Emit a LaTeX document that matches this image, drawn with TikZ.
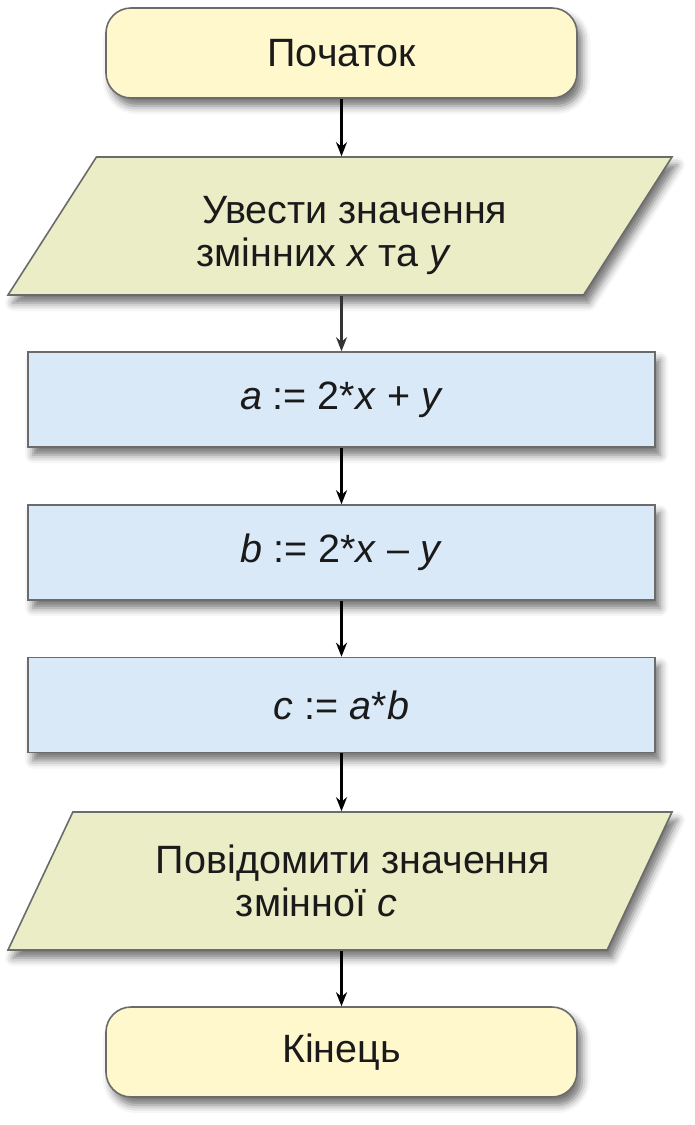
\documentclass[tikz,border=0pt]{standalone}
\usepackage{fontspec}
\setmainfont{Liberation Sans}
\usetikzlibrary{shapes.geometric,arrows.meta,shadows.blur}
\definecolor{termfill}{HTML}{FFF8CC}
\definecolor{iofill}{HTML}{EAEDC6}
\definecolor{procfill}{HTML}{DAE9F8}
\definecolor{edge}{HTML}{6B6B6B}
\definecolor{txt}{HTML}{1A1A1A}
\tikzset{
  shad/.style={blur shadow={shadow xshift=5pt,shadow yshift=-8pt,shadow blur radius=8pt,shadow opacity=55}},
  term/.style={draw=edge,line width=1.6pt,fill=termfill,rounded corners=25pt,minimum width=471pt,minimum height=90pt,shad,text=txt,font=\fontsize{39.5}{44}\selectfont},
  io/.style={draw=edge,line width=1.6pt,fill=iofill,shape=trapezium,trapezium left angle=48,trapezium right angle=132,trapezium stretches body,minimum width=664pt,minimum height=138pt,shad,text=txt,align=left,font=\fontsize{39.5}{43}\selectfont,inner sep=0pt},
  proc/.style={draw=edge,line width=1.6pt,fill=procfill,minimum width=627pt,minimum height=95pt,shad,text=txt,font=\fontsize{39.5}{44}\selectfont},
  flow/.style={line width=2.8pt,-{Stealth[length=14pt,width=11pt]}},
  thinflow/.style={line width=2.2pt,draw=black!80,-{Stealth[length=14pt,width=11pt]}}
}
\begin{document}
\begin{tikzpicture}[x=1pt,y=-1pt]
\useasboundingbox (0,0) rectangle (695,1125);
\node[term] (start) at (341.5,53) {Початок};
\node[io] (in) at (340,226) {\rule{0pt}{47pt}\hspace{30pt}Увести значення\\\hspace{24pt}змінних \textit{x} та \textit{y}};
\node[proc] (a) at (341.5,399.5) {\textit{a} := 2*\textit{x} + \textit{y}};
\node[proc] (b) at (341.5,552.5) {\textit{b} := 2*\textit{x} – \textit{y}};
\node[proc] (c) at (341.5,705) {\textit{c} := \textit{a}*\textit{b}};
\node[io] (out) at (340,881) {\hspace{26pt}Повідомити значення\\\hspace{106pt}змінної \textit{c}};
\node[term] (end) at (341.5,1052) {Кінець};
\draw[flow] (start.south) -- (start.south |- in.north);
\draw[thinflow] (start.south |- in.south) -- (start.south |- a.north);
\draw[flow] (start.south |- a.south) -- (start.south |- b.north);
\draw[flow] (start.south |- b.south) -- (start.south |- c.north);
\draw[flow] (start.south |- c.south) -- (start.south |- out.north);
\draw[flow] (start.south |- out.south) -- (end.north);
\end{tikzpicture}
\end{document}
